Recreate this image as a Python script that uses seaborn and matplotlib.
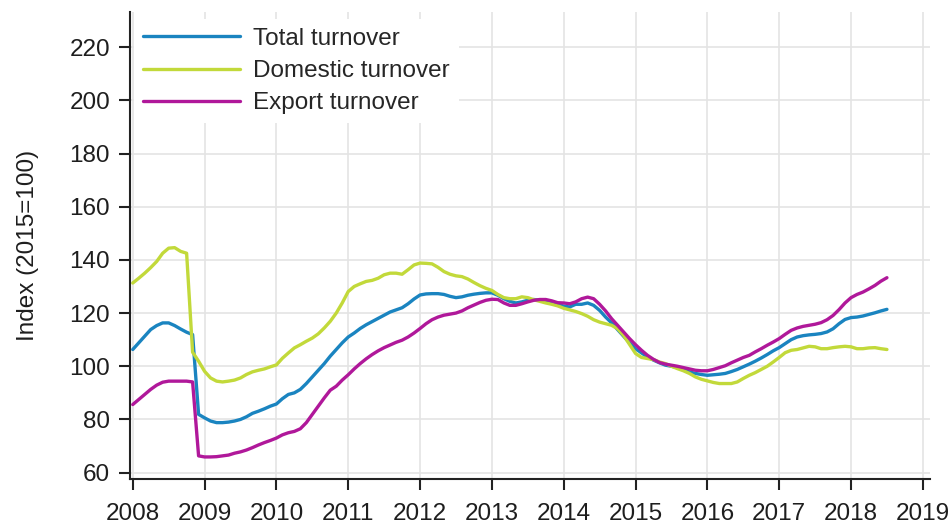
import pandas as pd
import seaborn as sns
import matplotlib.pyplot as plt

# Monthly turnover index, Jan 2008 - Jul 2018 (2015=100)
months = pd.date_range('2008-01-01', '2018-07-01', freq='MS')

total = [
    106.3, 108.8, 111.3, 113.8, 115.3, 116.3, 116.3, 115.3, 114.0, 112.8,
    111.9, 81.9, 80.6, 79.4, 78.8, 78.8, 79.0, 79.4, 80.0, 81.0,
    82.3, 83.1, 84.0, 85.0, 85.8, 87.8, 89.4, 90.0, 91.3, 93.5,
    96.0, 98.5, 101.0, 103.8, 106.3, 108.8, 111.0, 112.5, 114.2, 115.6,
    116.8, 118.0, 119.2, 120.4, 121.2, 122.0, 123.5, 125.3, 126.8, 127.2,
    127.3, 127.3, 127.0, 126.3, 125.8, 126.1, 126.7, 127.1, 127.4, 127.6,
    127.6, 126.7, 125.4, 124.4, 123.8, 124.2, 124.8, 125.1, 124.8, 124.2,
    123.8, 123.3, 122.6, 122.3, 123.3, 123.3, 123.8, 122.9, 121.0, 118.5,
    116.3, 113.8, 111.3, 108.8, 106.6, 105.0, 103.5, 102.3, 101.3, 100.4,
    100.0, 99.5, 98.8, 97.9, 97.3, 96.9, 96.6, 96.8, 97.0, 97.3,
    98.0, 98.8, 99.8, 100.8, 101.9, 103.1, 104.4, 105.8, 107.0, 108.5,
    110.0, 111.0, 111.5, 111.8, 112.0, 112.3, 112.9, 114.1, 116.0, 117.6,
    118.3, 118.5, 118.9, 119.5, 120.1, 120.8, 121.4,
]

domestic = [
    131.3, 133.1, 135.0, 137.1, 139.4, 142.5, 144.4, 144.6, 143.2, 142.5,
    105.3, 101.9, 98.1, 95.6, 94.4, 94.1, 94.4, 94.8, 95.6, 96.9,
    97.9, 98.5, 99.0, 99.8, 100.5, 103.0, 105.0, 106.9, 108.1, 109.4,
    110.6, 112.2, 114.4, 116.9, 120.0, 123.8, 128.1, 130.0, 131.0, 131.9,
    132.3, 133.1, 134.4, 135.0, 135.0, 134.6, 136.3, 138.1, 138.8, 138.7,
    138.5, 137.2, 135.6, 134.6, 134.0, 133.7, 132.8, 131.5, 130.3, 129.3,
    128.5, 127.0, 125.8, 125.4, 125.4, 126.1, 125.8, 125.0, 124.4, 123.8,
    123.3, 122.7, 121.8, 121.2, 120.6, 119.8, 118.8, 117.5, 116.6, 116.0,
    115.4, 114.1, 111.6, 108.2, 104.8, 103.3, 102.9, 102.5, 101.6, 101.0,
    100.0, 99.1, 98.3, 97.3, 96.0, 95.1, 94.5, 93.9, 93.5, 93.5,
    93.5, 94.1, 95.4, 96.6, 97.6, 98.8, 100.0, 101.6, 103.3, 105.1,
    106.0, 106.3, 106.9, 107.5, 107.3, 106.6, 106.6, 107.0, 107.3, 107.5,
    107.3, 106.6, 106.6, 106.9, 107.0, 106.6, 106.3,
]

export = [
    85.6, 87.5, 89.4, 91.3, 92.9, 94.0, 94.4, 94.4, 94.4, 94.4,
    94.1, 66.3, 65.9, 65.9, 66.0, 66.3, 66.6, 67.3, 67.8, 68.5,
    69.4, 70.4, 71.3, 72.1, 73.0, 74.2, 75.0, 75.5, 76.5, 78.8,
    81.9, 85.0, 88.1, 91.0, 92.5, 94.8, 96.8, 99.0, 101.0, 102.8,
    104.4, 105.8, 107.0, 108.0, 109.0, 109.8, 111.0, 112.5, 114.2, 116.0,
    117.5, 118.5, 119.2, 119.6, 120.0, 120.8, 122.0, 123.0, 124.0, 124.8,
    125.2, 125.1, 123.8, 122.9, 122.9, 123.5, 124.2, 124.8, 125.1, 125.1,
    124.6, 123.9, 123.8, 123.5, 124.2, 125.4, 126.0, 125.4, 123.3, 120.8,
    117.9, 115.4, 112.9, 110.4, 108.1, 106.0, 104.1, 102.6, 101.4, 100.8,
    100.4, 100.0, 99.5, 99.0, 98.5, 98.3, 98.3, 98.8, 99.5, 100.2,
    101.3, 102.3, 103.3, 104.1, 105.4, 106.6, 107.9, 109.1, 110.4, 112.0,
    113.5, 114.4, 115.0, 115.4, 115.8, 116.4, 117.5, 119.1, 121.3, 123.8,
    125.8, 127.0, 127.9, 129.1, 130.4, 132.0, 133.3,
]

series_names = ['Total turnover', 'Domestic turnover', 'Export turnover']
colors = ['#1a84c0', '#c2d93a', '#b0189a']
year_ticks = list(range(2008, 2020))
y_ticks = list(range(60, 221, 20))

# long format for seaborn
decimal_year = months.year + (months.month - 1) / 12
df = pd.concat([
    pd.DataFrame({'Year': decimal_year, 'Index': vals, 'Series': name})
    for name, vals in zip(series_names, [total, domestic, export])
])

sns.set_style('whitegrid')
plt.rcParams['font.family'] = ['Liberation Sans', 'DejaVu Sans']

fig = plt.figure(figsize=(9.53, 5.25), dpi=100)
ax = fig.add_axes([0.1359, 0.0876, 0.8400, 0.8895])

sns.lineplot(data=df, x='Year', y='Index', hue='Series', hue_order=series_names,
             palette=colors, linewidth=2.4, ax=ax)

ax.set_xlim(2007.955, 2019.1)
ax.set_ylim(57.6, 233.2)
ax.set_xticks(year_ticks)
ax.set_xticklabels([str(y) for y in year_ticks])
ax.set_yticks(y_ticks)
ax.set_xlabel('')
ax.set_ylabel('Index (2015=100)', fontsize=17.5, color='#1e1e1e', labelpad=22)

ax.grid(True, color='#e4e4e4', linewidth=1.2)
for side in ['top', 'right']:
    ax.spines[side].set_visible(False)
for side in ['left', 'bottom']:
    ax.spines[side].set_color('#222222')
    ax.spines[side].set_linewidth(1.5)
ax.tick_params(axis='both', which='major', direction='out', length=8, width=1.5,
               color='#222222', labelsize=17.5, labelcolor='#1e1e1e', pad=6,
               bottom=True, left=True)
ax.tick_params(axis='x', pad=9.5)

leg = ax.legend(loc='upper left', bbox_to_anchor=(0.006, 0.985), borderaxespad=0,
                fontsize=17.5, handlelength=4, handletextpad=0.55, labelspacing=0.43,
                borderpad=0.35, frameon=True, facecolor='white', edgecolor='none',
                framealpha=1, title=None)
for line in leg.get_lines():
    line.set_linewidth(2.4)

plt.savefig('out.png', dpi=100)
